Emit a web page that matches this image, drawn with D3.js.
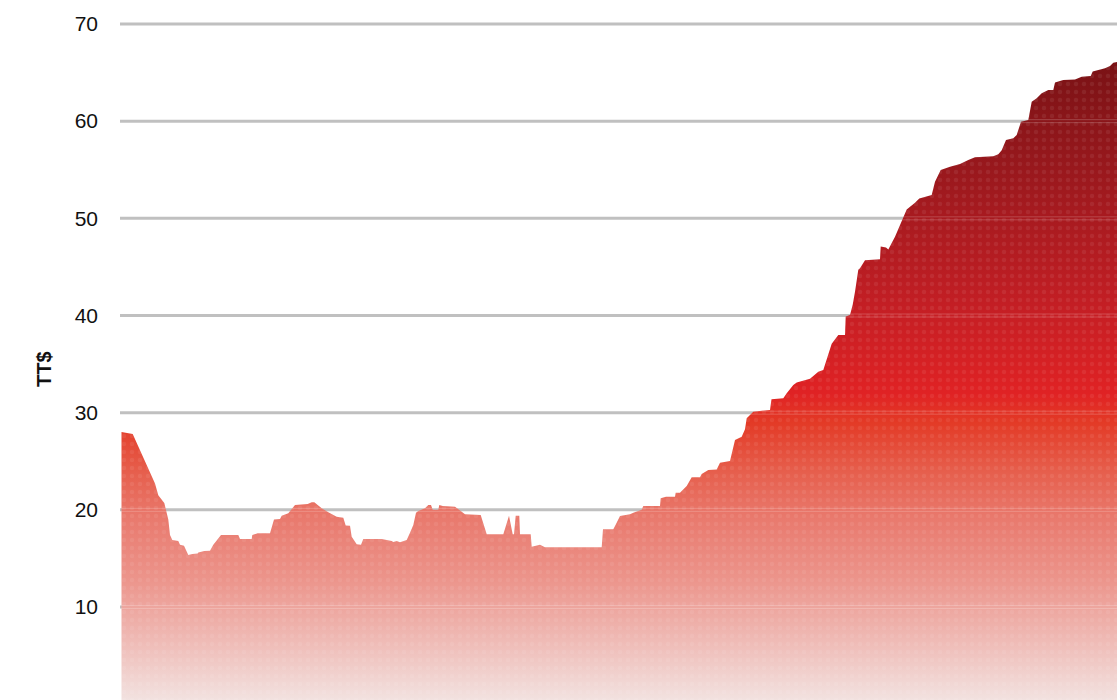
<!DOCTYPE html>
<html>
<head>
<meta charset="utf-8">
<script src="https://cdn.jsdelivr.net/npm/d3@7/dist/d3.min.js"></script>
<style>
  html, body { margin: 0; padding: 0; background: #fff; overflow: hidden; }
  svg { display: block; font-family: "Liberation Sans", Arial, sans-serif; }
</style>
</head>
<body>
<svg id="chart" width="1117" height="700"></svg>
<script>
// ---- data ----
const yTicks = [10, 20, 30, 40, 50, 60, 70];
const yLabel = "TT$";
const obs = [
  0.5, 11.7, 34, 37.3, 43.3, 47.3, 49, 51.3, 57.3, 59,
  63, 67.3, 71.3, 76.7, 77.3, 83.3, 89, 92.3, 100, 117.3,
  119, 130.7, 131.3, 136.7, 149, 153, 159, 160.7, 167.3, 174,
  186.7, 190.7, 193.3, 200.7, 207.3, 215.7, 222.3, 224.7, 229, 230.7,
  235.7, 240, 242.3, 260.7, 270.7, 272.3, 275.7, 279, 285.7, 289,
  292.3, 295, 297.3, 304, 307.3, 310, 311.7, 317.3, 318.3, 321.7,
  334, 344, 359.7, 365.7, 382.3, 388, 391.7, 393, 394.7, 398.3,
  399, 409.7, 410.7, 419, 424, 480.7, 482, 492.3, 494, 499,
  509, 512.3, 520.7, 522.3, 539, 539.7, 545, 554, 554.7, 559,
  565.7, 570.7, 579, 580.7, 587.3, 595.7, 599, 609, 614, 620.7,
  624, 625.7, 632.3, 649, 650.5, 662.3, 665.7, 672.3, 675.7, 689,
  697.3, 702.3, 710.7, 717.3, 724, 724.7, 729, 731.7, 734, 737.3,
  739, 744, 759, 759.7, 765, 767.3, 774, 785.7, 794, 798.3,
  810.7, 814, 819.7, 829, 839, 847.3, 854, 872.3, 877.3, 880.7,
  885, 892.3, 895.7, 900, 907.3, 910.7, 915.7, 920.7, 927.3, 932.3,
  934, 942.3, 954, 960.7, 969.7, 971.7, 984, 989, 992.3, 996
];
const price = [
  28.0, 27.8, 22.7, 21.5, 20.7, 19.0, 17.4, 16.9, 16.8, 16.4,
  16.3, 15.35, 15.45, 15.5, 15.6, 15.77, 15.8, 16.4, 17.4, 17.4,
  17.0, 17.0, 17.4, 17.6, 17.6, 19.0, 19.06, 19.4, 19.65, 20.5,
  20.6, 20.78, 20.78, 20.16, 19.75, 19.3, 19.2, 18.4, 18.37, 17.24,
  16.45, 16.4, 17.0, 17.0, 16.8, 16.7, 16.8, 16.66, 16.9, 17.65,
  18.44, 19.7, 19.88, 20.16, 20.5, 20.5, 20.0, 20.0, 20.5, 20.4,
  20.33, 19.54, 19.47, 17.49, 17.49, 19.4, 17.49, 17.49, 19.4, 19.4,
  17.49, 17.49, 16.2, 16.4, 16.15, 16.15, 18.0, 18.0, 18.34, 19.37,
  19.54, 19.7, 20.0, 20.4, 20.4, 21.2, 21.36, 21.36, 21.77, 21.77,
  22.46, 23.35, 23.35, 23.7, 24.1, 24.15, 24.85, 25.03, 27.19, 27.53,
  28.29, 29.42, 30.1, 30.28, 31.38, 31.48, 32.0, 32.85, 33.1, 33.5,
  34.2, 34.4, 37.1, 38.0, 38.0, 39.9, 40.05, 41.1, 42.45, 44.7,
  44.86, 45.7, 45.8, 47.1, 47.0, 46.8, 48.1, 50.9, 51.6, 52.05,
  52.4, 53.77, 54.97, 55.3, 55.6, 56.0, 56.3, 56.4, 56.6, 57.0,
  58.06, 58.24, 58.58, 59.95, 60.12, 62.0, 62.35, 62.87, 63.2, 63.2,
  63.97, 64.24, 64.3, 64.58, 64.65, 65.1, 65.44, 65.68, 66.0, 66.1
];
const gradStops = [
  { v: 66, c: "#7a1215" },
  { v: 55, c: "#99181d" },
  { v: 41.5, c: "#c21e24" },
  { v: 32, c: "#e02224" },
  { v: 29, c: "#e33a26" },
  { v: 24, c: "#e65e4c" },
  { v: 19, c: "#e97a6e" },
  { v: 12.7, c: "#ec958c" },
  { v: 6.6, c: "#efbab5" },
  { v: 0.4, c: "#f2e2e0" }
];

// ---- layout ----
const W = 1117, H = 700;
const mLeft = 121, mRight = 1117, mTop = 24, mBottom = 704.2;
const data = obs.map((t, i) => ({ t, v: price[i] }));

const x = d3.scaleLinear().domain([0, 996]).range([mLeft, mRight]);
const y = d3.scaleLinear().domain([0, 70]).range([mBottom, mTop]);

const svg = d3.select("#chart");
const defs = svg.append("defs");

const grad = defs.append("linearGradient")
  .attr("id", "fillGrad")
  .attr("gradientUnits", "userSpaceOnUse")
  .attr("x1", 0).attr("x2", 0)
  .attr("y1", y(70)).attr("y2", y(0));
gradStops.forEach(s => {
  grad.append("stop")
    .attr("offset", (y(s.v) - y(70)) / (y(0) - y(70)))
    .attr("stop-color", s.c);
});

const pat = defs.append("pattern")
  .attr("id", "dots")
  .attr("patternUnits", "userSpaceOnUse")
  .attr("width", 8).attr("height", 8);
pat.append("circle").attr("cx", 4).attr("cy", 4).attr("r", 2.2)
  .attr("fill", "#ffffff").attr("fill-opacity", 0.07);

defs.append("clipPath").attr("id", "plotClip")
  .append("rect").attr("x", mLeft).attr("y", 0)
  .attr("width", mRight - mLeft).attr("height", H);

// gridlines
const grid = svg.append("g");
grid.selectAll("line").data(yTicks).join("line")
  .attr("x1", mLeft - 1).attr("x2", mRight)
  .attr("y1", d => y(d)).attr("y2", d => y(d))
  .attr("stroke", "#c0c0c0").attr("stroke-width", 3);

// area
const area = d3.area()
  .x(d => x(d.t))
  .y0(y(0))
  .y1(d => y(d.v));

const g = svg.append("g").attr("clip-path", "url(#plotClip)");
g.append("path").datum(data).attr("d", area).attr("fill", "url(#fillGrad)");
g.append("path").datum(data).attr("d", area).attr("fill", "url(#dots)");

// faint gridline seams over the area
const areaClip = defs.append("clipPath").attr("id", "areaClip");
areaClip.append("path").datum(data).attr("d", area);
const seams = svg.append("g").attr("clip-path", "url(#areaClip)");
yTicks.forEach(t => {
  [-1.5, 1.5].forEach(off => {
    seams.append("line")
      .attr("x1", mLeft).attr("x2", mRight)
      .attr("y1", y(t) + off).attr("y2", y(t) + off)
      .attr("stroke", "#ffffff").attr("stroke-opacity", 0.25)
      .attr("stroke-width", 0.8);
  });
});

// y axis labels
const yAxis = d3.axisLeft(y).tickValues(yTicks).tickSize(0).tickPadding(0);
const ax = svg.append("g").attr("transform", "translate(98,0)").call(yAxis);
ax.select(".domain").remove();
ax.selectAll("text")
  .attr("font-size", 21)
  .attr("font-family", "'Liberation Sans', Arial, sans-serif")
  .attr("fill", "#111");

svg.append("text")
  .attr("transform", `translate(51,${(y(70) + y(0)) / 2 + 5}) rotate(-90)`)
  .attr("text-anchor", "middle")
  .attr("font-size", 20)
  .attr("font-weight", "bold")
  .attr("fill", "#111")
  .text(yLabel);
</script>
</body>
</html>
